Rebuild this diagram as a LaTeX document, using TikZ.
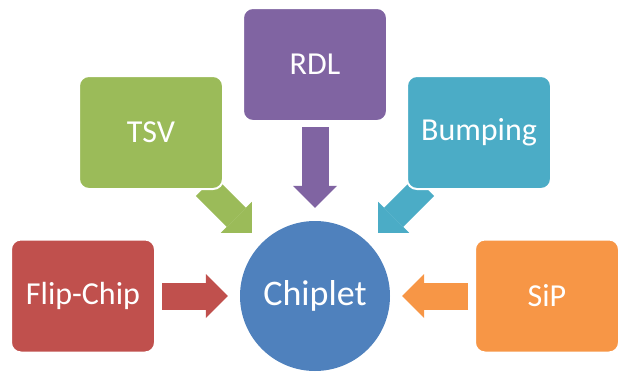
\documentclass[tikz,border=0pt]{standalone}
\usepackage{fontspec}
\setmainfont{Carlito}
\usetikzlibrary{arrows.meta,backgrounds}
\definecolor{chipblue}{HTML}{4F81BD}
\definecolor{flipred}{HTML}{C0504D}
\definecolor{tsvgreen}{HTML}{9BBB59}
\definecolor{rdlpurple}{HTML}{8064A2}
\definecolor{bumpaqua}{HTML}{4BACC6}
\definecolor{siporange}{HTML}{F79646}
\tikzset{
  box/.style={draw=white, line width=2pt, rounded corners=10pt,
    minimum width=144pt, minimum height=113pt, text=white,
    font=\fontsize{32}{38}\selectfont},
  flow/.style={line width=27pt,
    -{Triangle[width=44pt,length=22pt,line width=0pt]}},
}
\begin{document}
\begin{tikzpicture}[x=1pt,y=-1pt]
    \useasboundingbox (0,0) rectangle (622,372);
    \node [circle, fill=chipblue, minimum size=150pt, text=white,
      font=\fontsize{36}{42}\selectfont] (chip) at (315,296) {Chiplet};
    \node [box, fill=flipred]   (flip) at (83,296)    {Flip-Chip};
    \node [box, fill=tsvgreen]  (tsv)  at (151,132.5) {TSV};
    \node [box, fill=rdlpurple] (rdl)  at (315,64.5)  {RDL};
    \node [box, fill=bumpaqua]  (bump) at (479,132.5) {Bumping};
    \node [box, fill=siporange] (sip)  at (547,296)   {SiP};
    \coordinate (tsvtail)  at ([shift={(135:155pt)}]chip.center);
    \coordinate (bumptail) at ([shift={(45:155pt)}]chip.center);
    % arrows go under the boxes
    \begin{pgfonlayer}{background}
        \draw [flow, flipred, shorten <=6pt, shorten >=12pt] (flip) -- (chip);
        \draw [flow, siporange, shorten <=6pt, shorten >=12pt] (sip) -- (chip);
        \draw [flow, rdlpurple, shorten <=5pt, shorten >=13pt] (rdl) -- (chip);
        \draw [flow, tsvgreen, shorten >=14pt] (tsvtail) -- (chip);
        \draw [flow, bumpaqua, shorten >=14pt] (bumptail) -- (chip);
    \end{pgfonlayer}
\end{tikzpicture}
\end{document}
